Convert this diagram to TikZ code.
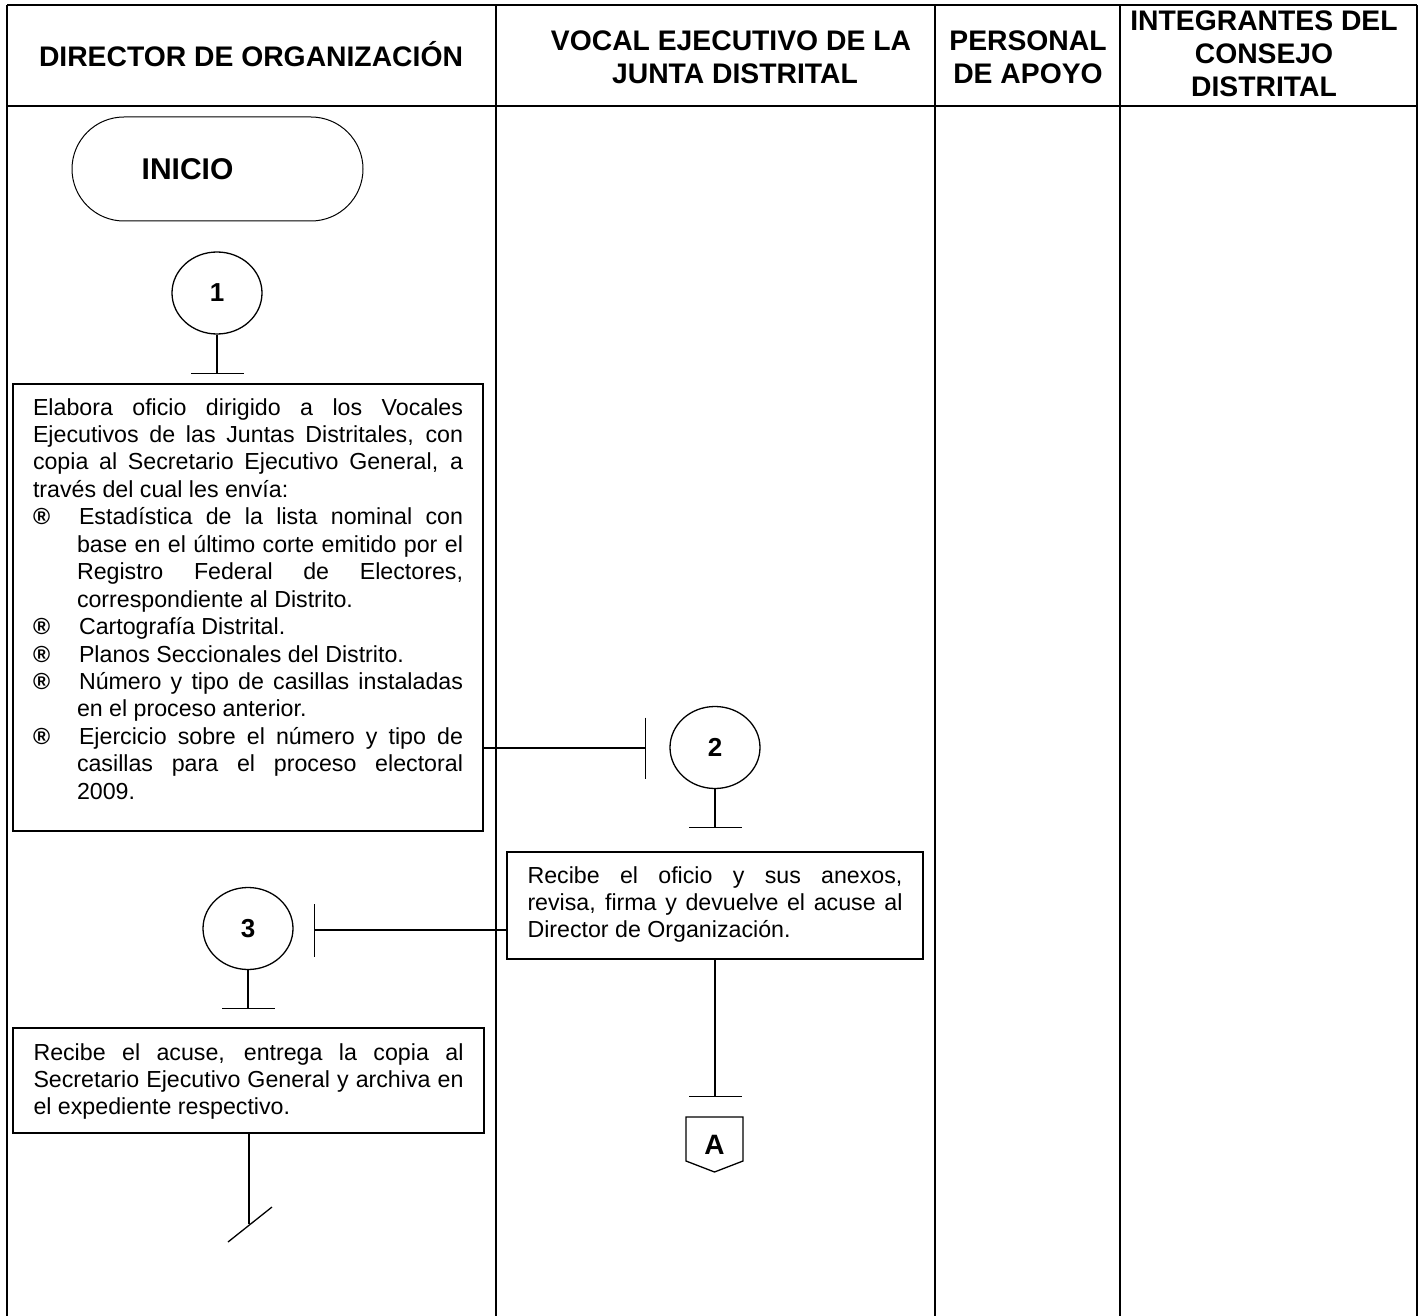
\documentclass[tikz,border=0pt]{standalone}
\usepackage{fontspec}
\setmainfont{Liberation Sans}
\usetikzlibrary{shapes.geometric,arrows.meta,calc}

% text sizes (1pt = one unit of the drawing)
\newcommand\bodytext{\fontsize{23.2pt}{27.45pt}\selectfont}
\newcommand\headtext{\fontsize{28.3pt}{32pt}\selectfont\bfseries}
% bullet item inside an activity box
\newcommand\regitem{\par\hangindent=44pt\hangafter=1\noindent\makebox[46pt][l]{\bfseries ®}}
% activity text: height of box, text width, height of first line, text
\newcommand\actext[4]{\parbox[c][#1][t]{#2}{\bodytext\tolerance=10000\hyphenpenalty=10000\exhyphenpenalty=10000\rule{0pt}{#3}#4}}

\begin{document}
\begin{tikzpicture}[x=1pt,y=-1pt,
  lane/.style={line width=2.2pt},
  head/.style={anchor=base,inner sep=0pt,font=\headtext},
  flow/.style={line width=1.3pt},
  tee/.style={flow,-{Bar[width=#1,line width=1.3pt]}},
  tee/.default=53pt,
  flowbox/.style={draw,line width=1.7pt,rectangle,inner ysep=0pt,inner xsep=20pt},
  conn/.style={ellipse,draw,line width=1.3pt,minimum width=90pt,minimum height=82pt,
    inner sep=0pt,font=\fontsize{26pt}{30pt}\selectfont\bfseries},
  terminal/.style={rectangle,draw,line width=1pt,rounded corners=52pt,
    minimum width=291pt,minimum height=104pt,inner sep=0pt,
    font=\fontsize{30pt}{36pt}\selectfont\bfseries}]

\useasboundingbox (0,0) rectangle (1422,1316);
\fill[white] (0,0) rectangle (1422,1316);

% swimlane table
\draw[lane] (7,5) -- (1417,5);
\draw[lane] (7,106) -- (1417,106);
\foreach \lx in {7,496,935,1120,1417}
  \draw[lane] (\lx,5) -- (\lx,1316);

% lane titles
\node[head] (h1)  at (251,67)  {DIRECTOR DE ORGANIZACIÓN};
\node[head] (h2a) at (731,51)  {VOCAL EJECUTIVO DE LA};
\node[head] (h2b) at (735,84)  {JUNTA DISTRITAL};
\node[head] (h3a) at (1028,51) {PERSONAL};
\node[head] (h3b) at (1028,84) {DE APOYO};
\node[head] (h4a) at (1264,31) {INTEGRANTES DEL};
\node[head] (h4b) at (1264,64) {CONSEJO};
\node[head] (h4c) at (1264,97) {DISTRITAL};

% start
\node[terminal] (inicio) at (217.5,169) {\hspace{-60pt}INICIO};

% step 1
\node[conn] (c1) at (217,293) {1};
\coordinate (t1) at (217,374);
\draw[tee] (c1) -- (t1);
\node[flowbox] (b1) at (248,607.5) {\actext{447pt}{430pt}{31pt}{%
Elabora oficio dirigido a los Vocales\linebreak
Ejecutivos de las Juntas Distritales, con\linebreak
copia al Secretario Ejecutivo General, a\linebreak
través del cual les envía:
\regitem Estadística de la lista nominal con\linebreak
base en el último corte emitido por el\linebreak
Registro Federal de Electores,\linebreak
correspondiente al Distrito.
\regitem Cartografía Distrital.
\regitem Planos Seccionales del Distrito.
\regitem Número y tipo de casillas instaladas\linebreak
en el proceso anterior.
\regitem Ejercicio sobre el número y tipo de\linebreak
casillas para el proceso electoral\linebreak
2009.}};

% step 2
\coordinate (t2) at (646,748);
\draw[tee=61pt] (b1.east |- t2) -- (t2);
\node[conn] (c2) at (715,747.5) {2};
\coordinate (t2b) at (715,828);
\draw[tee] (c2) -- (t2b);
\node[flowbox,inner xsep=20.5pt] (b2) at (715,905.5) {\actext{107pt}{375pt}{31pt}{%
Recibe el oficio y sus anexos,\linebreak
revisa, firma y devuelve el acuse al\linebreak
Director de Organización.}};

% step 3
\coordinate (t3) at (314,930);
\draw[tee] (b2.west |- t3) -- (t3);
\node[conn] (c3) at (248,928.5) {3};
\coordinate (t3b) at (248,1009);
\draw[tee] (c3) -- (t3b);
\node[flowbox,inner xsep=20.5pt] (b3) at (248.5,1080.5) {\actext{105pt}{430pt}{32pt}{%
Recibe el acuse, entrega la copia al\linebreak
Secretario Ejecutivo General y archiva en\linebreak
el expediente respectivo.}};

% end of the director's branch
\coordinate (fin) at (249,1224);
\draw[flow] (b3.south -| fin) -- (fin);
\draw[flow] ($(fin)+(-21,18)$) -- ($(fin)+(23,-17)$);

% continuation to connector A
\coordinate (tA) at (715,1097);
\draw[tee] (b2.south) -- (tA);
\node[inner sep=0pt,font=\fontsize{28pt}{30pt}\selectfont\bfseries] (pA) at (714.5,1145) {A};
\draw[flow] ($(pA)+(-28.5,-28)$) -- ++(57,0) -- ++(0,44) -- ++(-28.5,11) -- ++(-28.5,-11) -- cycle;

\end{tikzpicture}
\end{document}
